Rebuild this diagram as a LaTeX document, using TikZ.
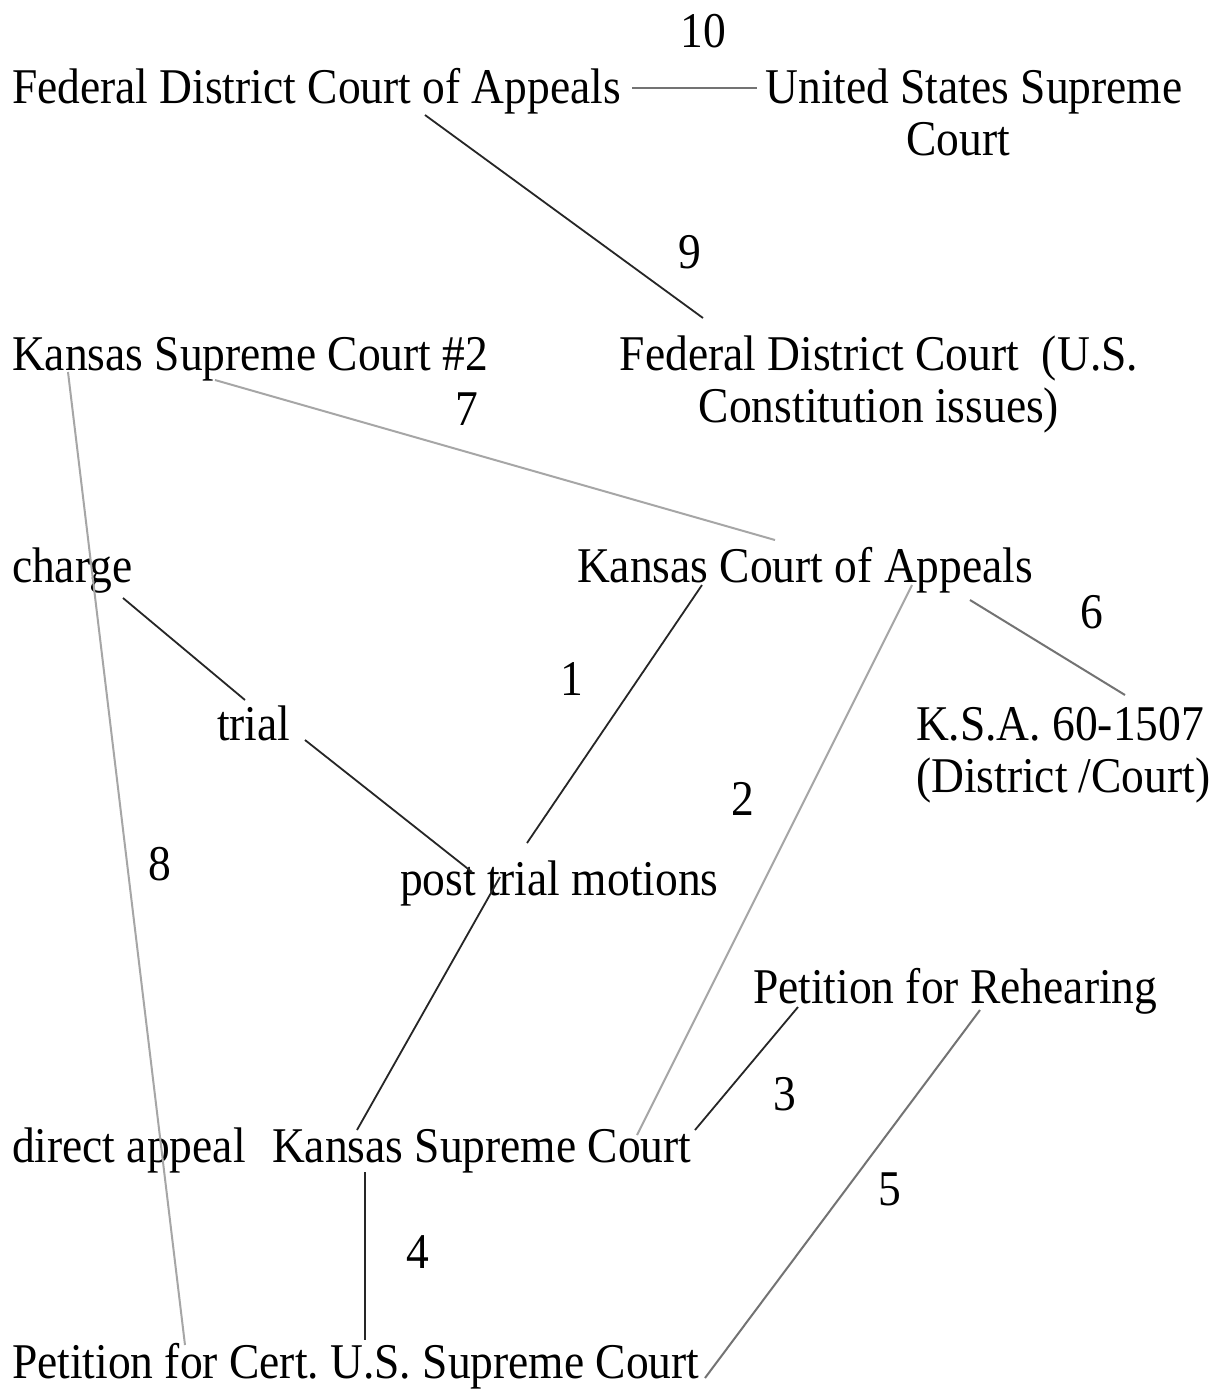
\documentclass[tikz,border=0pt]{standalone}
\usepackage{fontspec}
\setmainfont{Liberation Serif}[FakeStretch=0.91]
\frenchspacing
\begin{document}
\begin{tikzpicture}[x=0.5pt,y=-0.5pt,
  lbl/.style={inner sep=0pt, outer sep=0pt, font=\fontsize{25}{26}\selectfont},
  num/.style={lbl, anchor=base},
  darkline/.style={draw=black!85, line width=0.9pt},
  midline/.style={draw=black!55, line width=1pt},
  lightline/.style={draw=black!35, line width=1pt}]
\useasboundingbox[fill=white] (0,0) rectangle (1220,1389);
% text nodes (multi-line nodes: base = last line)
\node[lbl, anchor=base west] (fca) at (12,103) {Federal District Court of Appeals};
\node[lbl, anchor=base, align=center] (ussc) at (974,155) {United States Supreme\\Court\hspace*{16pt}};
\node[lbl, anchor=base west] (ksc2) at (12,370) {Kansas Supreme Court \#2};
\node[lbl, anchor=base, align=center] (fdc) at (879,422) {Federal District Court\ \ (U.S.\\Constitution issues)};
\node[lbl, anchor=base west] (charge) at (12,582) {charge};
\node[lbl, anchor=base west] (kca) at (577,582) {Kansas Court of Appeals};
\node[lbl, anchor=base west, align=left] (ksa) at (916,792) {K.S.A. 60-1507\\(District /Court)};
\node[lbl, anchor=base west] (trial) at (217,740) {trial};
\node[lbl, anchor=base west] (ptm) at (400,895) {post trial motions};
\node[lbl, anchor=base west] (pfr) at (753,1003) {Petition for Rehearing};
\node[lbl, anchor=base west] (da) at (12,1162) {direct appeal};
\node[lbl, anchor=base west] (ksc) at (272,1162) {Kansas Supreme Court};
\node[lbl, anchor=base west] (pfc) at (12,1378) {Petition for Cert. U.S. Supreme Court};
% numbers
\node[num] (n10) at (703,47) {10};
\node[num] (n9) at (690,268) {9};
\node[num] (n7) at (467,425) {7};
\node[num] (n6) at (1092,628) {6};
\node[num] (n1) at (572,695) {1};
\node[num] (n2) at (743,815) {2};
\node[num] (n8) at (160,880) {8};
\node[num] (n3) at (785,1110) {3};
\node[num] (n5) at (890,1205) {5};
\node[num] (n4) at (418,1268) {4};
% connector end points
\coordinate (fca-e) at (632,88);
\coordinate (ussc-w) at (757,88);
\coordinate (fca-s) at (425,115);
\coordinate (fdc-n) at (703,318);
\coordinate (ksc2-s) at (215,380);
\coordinate (kca-n) at (775,540);
\coordinate (ksc2-k) at (68,372);
\coordinate (pfc-f) at (185,1345);
\coordinate (charge-s) at (123,598);
\coordinate (trial-n) at (245,700);
\coordinate (kca-s1) at (702,585);
\coordinate (ptm-n1) at (527,843);
\coordinate (trial-e) at (305,740);
\coordinate (ptm-n2) at (472,872);
\coordinate (kca-s2) at (912,585);
\coordinate (ksc-n2) at (637,1135);
\coordinate (kca-se) at (970,600);
\coordinate (ksa-n) at (1125,695);
\coordinate (ptm-s) at (500,877);
\coordinate (ksc-n1) at (357,1130);
\coordinate (pfr-s1) at (798,1007);
\coordinate (ksc-ne) at (695,1130);
\coordinate (pfr-s2) at (980,1010);
\coordinate (pfc-e) at (705,1378);
\coordinate (ksc-s) at (365,1172);
\coordinate (pfc-n) at (365,1340);
% connectors
\draw[midline] (fca-e) -- (ussc-w);
\draw[darkline] (fca-s) -- (fdc-n);
\draw[lightline] (ksc2-s) -- (kca-n);
\draw[lightline] (ksc2-k) -- (pfc-f);
\draw[darkline] (charge-s) -- (trial-n);
\draw[darkline] (kca-s1) -- (ptm-n1);
\draw[darkline] (trial-e) -- (ptm-n2);
\draw[lightline] (kca-s2) -- (ksc-n2);
\draw[midline] (kca-se) -- (ksa-n);
\draw[darkline] (ptm-s) -- (ksc-n1);
\draw[darkline] (pfr-s1) -- (ksc-ne);
\draw[midline] (pfr-s2) -- (pfc-e);
\draw[darkline] (ksc-s) -- (pfc-n);
\end{tikzpicture}
\end{document}
